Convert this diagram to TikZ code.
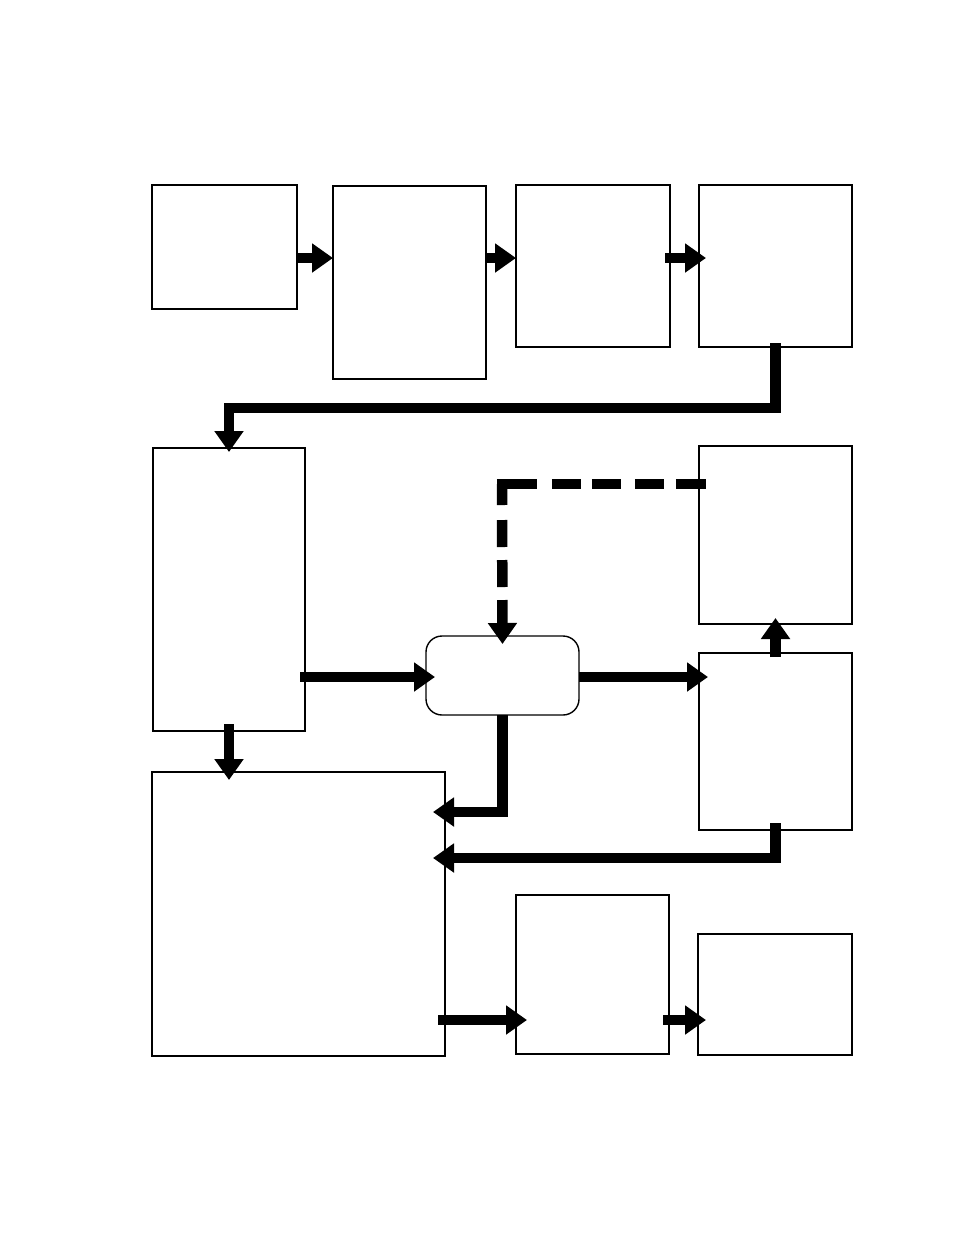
\documentclass[tikz,border=0pt]{standalone}
\usetikzlibrary{arrows.meta,calc}
\begin{document}
\begin{tikzpicture}[x=1pt,y=-1pt,
  box/.style={draw, line width=1.4pt, inner sep=0pt, outer sep=0pt, anchor=north west, fill=white},
  arr/.style={line width=10.5pt, line join=miter, -{Triangle[length=21pt,width=28pt]}},
  thickline/.style={line width=10.5pt}]
\useasboundingbox (0,0) rectangle (954,1235);
% boxes
\node[box, minimum width=145pt, minimum height=124pt] (A) at (152,185) {};
\node[box, minimum width=153pt, minimum height=193pt] (B) at (333,186) {};
\node[box, minimum width=154pt, minimum height=162pt] (C) at (516,185) {};
\node[box, minimum width=153pt, minimum height=162pt] (D) at (699,185) {};
\node[box, minimum width=152pt, minimum height=283pt] (E) at (153,448) {};
\node[box, minimum width=153pt, minimum height=178pt] (F) at (699,446) {};
\node[box, rounded corners=16pt, minimum width=153pt, minimum height=79pt] (G) at (426,636) {};
\node[box, minimum width=153pt, minimum height=177pt] (H) at (699,653) {};
\node[box, minimum width=293pt, minimum height=284pt] (I) at (152,772) {};
\node[box, minimum width=153pt, minimum height=159pt] (J) at (516,895) {};
\node[box, minimum width=154pt, minimum height=121pt] (K) at (698,934) {};
% helper rows
\coordinate (r1) at (0,258);
\coordinate (r2) at (0,677);
\coordinate (r3) at (0,1020);
\coordinate (k1) at (229,408);
\coordinate (k2) at (502,484);
\coordinate (k3) at (502,812);
\coordinate (k4) at (776,858);
% connectors
\draw[arr] (A.east|-r1) -- (B.west|-r1);
\draw[arr] (B.east|-r1) -- (C.west|-r1);
\draw[arr] ($(C.east|-r1)+(-5,0)$) -- ($(D.west|-r1)+(7,0)$);
\draw[arr] ($(D.south)+(0,-4)$) |- (k1) -- ($(E.north)+(0,4)$);
\draw[arr] ($(E.east|-r2)+(-5,0)$) -- ($(G.west|-r2)+(9,0)$);
\draw[arr] (G.east|-r2) -- ($(H.west|-r2)+(9,0)$);
% dashed feedback F -> G
\draw[thickline, dash pattern=on 40pt off 15pt on 29pt off 11pt on 29pt off 14pt on 29pt off 12pt on 40pt]
  ($(k2)+(-5.25,0)$) -- ($(F.west|-k2)+(7,0)$);
\draw[arr, dash pattern=on 21pt off 15pt on 27pt off 13pt on 27pt off 13pt on 200pt]
  (k2) -- ($(G.north)+(0,8)$);
\draw[arr] ($(H.north)+(0,4)$) -- ($(F.south)+(0,-6)$);
\draw[arr] ($(E.south)+(0,-7)$) -- ($(E.south|-I.north)+(0,8)$);
\draw[arr] (G.south) |- ($(I.east|-k3)+(-12,0)$);
\draw[arr] ($(H.south)+(0,-7)$) |- ($(I.east|-k4)+(-12,0)$);
\draw[arr] ($(I.east|-r3)+(-7,0)$) -- ($(J.west|-r3)+(11,0)$);
\draw[arr] ($(J.east|-r3)+(-6,0)$) -- ($(K.west|-r3)+(8,0)$);
\end{tikzpicture}
\end{document}
